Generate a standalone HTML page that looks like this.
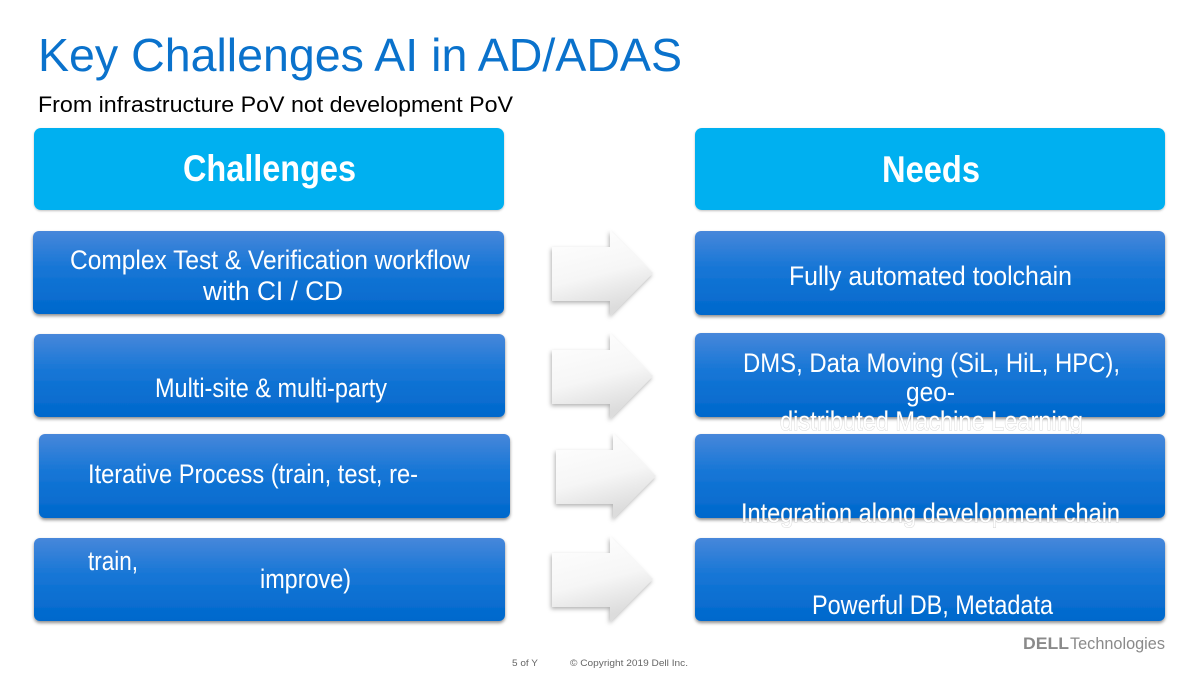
<!DOCTYPE html>
<html>
<head>
<meta charset="utf-8">
<style>
  html,body{margin:0;padding:0;background:#fff;}
  svg{display:block;}
  text{font-family:"Liberation Sans", Arial, sans-serif;}
</style>
</head>
<body>
<svg width="1200" height="675" viewBox="0 0 1200 675" xmlns="http://www.w3.org/2000/svg">
  <defs>
    <linearGradient id="gBlue" x1="0" y1="0" x2="0" y2="1">
      <stop offset="0" stop-color="#4787da"/>
      <stop offset="0.45" stop-color="#1676d6"/>
      <stop offset="1" stop-color="#0068cc"/>
    </linearGradient>
    <linearGradient id="gArrow" x1="0" y1="0" x2="0.3" y2="1">
      <stop offset="0" stop-color="#ffffff"/>
      <stop offset="0.6" stop-color="#f6f6f6"/>
      <stop offset="1" stop-color="#dcdcdc"/>
    </linearGradient>
    <filter id="shBox" x="-5%" y="-20%" width="110%" height="150%">
      <feDropShadow dx="0" dy="2" stdDeviation="1.6" flood-color="#000" flood-opacity="0.45"/>
    </filter>
    <filter id="shHead" x="-5%" y="-20%" width="110%" height="150%">
      <feDropShadow dx="0" dy="1" stdDeviation="1" flood-color="#000" flood-opacity="0.25"/>
    </filter>
    <filter id="shArrow" x="-20%" y="-20%" width="140%" height="150%">
      <feDropShadow dx="-1" dy="2" stdDeviation="2" flood-color="#000" flood-opacity="0.3"/>
    </filter>
  </defs>

  <!-- Title -->
  <text x="38" y="71" font-size="46" fill="#0a72cc" textLength="644" lengthAdjust="spacingAndGlyphs">Key Challenges AI in AD/ADAS</text>
  <text x="38" y="112" font-size="22" fill="#000" textLength="475" lengthAdjust="spacingAndGlyphs">From infrastructure PoV not development PoV</text>

  <!-- Header boxes -->
  <rect x="34" y="128" width="470" height="82" rx="7" fill="#00b0f0" filter="url(#shHead)"/>
  <rect x="695" y="128" width="470" height="82" rx="7" fill="#00b0f0" filter="url(#shHead)"/>
  <text x="183" y="181" font-size="37" font-weight="bold" fill="#fff" textLength="173" lengthAdjust="spacingAndGlyphs">Challenges</text>
  <text x="882" y="182" font-size="37" font-weight="bold" fill="#fff" textLength="98" lengthAdjust="spacingAndGlyphs">Needs</text>

  <!-- Left boxes -->
  <rect x="33" y="231" width="471" height="83" rx="6" fill="url(#gBlue)" filter="url(#shBox)"/>
  <rect x="34" y="334" width="471" height="83" rx="6" fill="url(#gBlue)" filter="url(#shBox)"/>
  <rect x="39" y="434" width="471" height="84" rx="6" fill="url(#gBlue)" filter="url(#shBox)"/>
  <rect x="34" y="538" width="471" height="83" rx="6" fill="url(#gBlue)" filter="url(#shBox)"/>

  <text x="70" y="269" font-size="27" fill="#fff" textLength="400" lengthAdjust="spacingAndGlyphs">Complex Test &amp; Verification workflow</text>
  <text x="203" y="300" font-size="27" fill="#fff" textLength="140" lengthAdjust="spacingAndGlyphs">with CI / CD</text>
  <text x="155" y="397" font-size="27" fill="#fff" textLength="232" lengthAdjust="spacingAndGlyphs">Multi-site &amp; multi-party</text>
  <text x="88" y="483" font-size="27" fill="#fff" textLength="330" lengthAdjust="spacingAndGlyphs">Iterative Process (train, test, re-</text>
  <text x="88" y="570" font-size="27" fill="#fff" textLength="50" lengthAdjust="spacingAndGlyphs">train,</text>
  <text x="260" y="588" font-size="27" fill="#fff" textLength="91" lengthAdjust="spacingAndGlyphs">improve)</text>

  <!-- Arrows -->
  <g filter="url(#shArrow)" fill="url(#gArrow)">
    <path d="M552,247 L610,247 L610,230 L653,273 L610,316 L610,301 L552,301 Z"/>
    <path d="M552,350 L610,350 L610,333 L653,376 L610,419 L610,404 L552,404 Z"/>
    <path d="M556,450 L613,450 L613,433 L656,476 L613,519 L613,504 L556,504 Z"/>
    <path d="M552,553 L610,553 L610,536 L653,579 L610,622 L610,607 L552,607 Z"/>
  </g>

  <!-- Right boxes -->
  <rect x="695" y="231" width="470" height="84" rx="6" fill="url(#gBlue)" filter="url(#shBox)"/>
  <rect x="695" y="333" width="470" height="84" rx="6" fill="url(#gBlue)" filter="url(#shBox)"/>

  <text x="789" y="285" font-size="27" fill="#fff" textLength="283" lengthAdjust="spacingAndGlyphs">Fully automated toolchain</text>
  <text x="743" y="372" font-size="27" fill="#fff" textLength="377" lengthAdjust="spacingAndGlyphs">DMS, Data Moving (SiL, HiL, HPC),</text>
  <text x="906" y="401" font-size="27" fill="#fff" textLength="49" lengthAdjust="spacingAndGlyphs">geo-</text>
  <text x="780" y="430" font-size="27" fill="#fff" stroke="#999" stroke-opacity="0.4" stroke-width="1" paint-order="stroke" textLength="303" lengthAdjust="spacingAndGlyphs">distributed Machine Learning</text>

  <rect x="695" y="434" width="470" height="84" rx="6" fill="url(#gBlue)" filter="url(#shBox)"/>
  <text x="741" y="522" font-size="27" fill="#fff" stroke="#999" stroke-opacity="0.4" stroke-width="1" paint-order="stroke" textLength="379" lengthAdjust="spacingAndGlyphs">Integration along development chain</text>

  <rect x="695" y="538" width="470" height="83" rx="6" fill="url(#gBlue)" filter="url(#shBox)"/>
  <text x="812" y="614" font-size="27" fill="#fff" textLength="241" lengthAdjust="spacingAndGlyphs">Powerful DB, Metadata</text>

  <!-- Footer -->
  <text x="512" y="666" font-size="9.5" fill="#666" textLength="26" lengthAdjust="spacingAndGlyphs">5 of Y</text>
  <text x="570" y="666" font-size="9.5" fill="#666" textLength="118" lengthAdjust="spacingAndGlyphs">© Copyright 2019 Dell Inc.</text>
  <text x="1023" y="649" font-size="17" font-weight="bold" fill="#8a8a8a" textLength="46" lengthAdjust="spacingAndGlyphs">DELL</text>
  <text x="1070" y="649" font-size="17" fill="#8a8a8a" textLength="95" lengthAdjust="spacingAndGlyphs">Technologies</text>
</svg>
</body>
</html>
